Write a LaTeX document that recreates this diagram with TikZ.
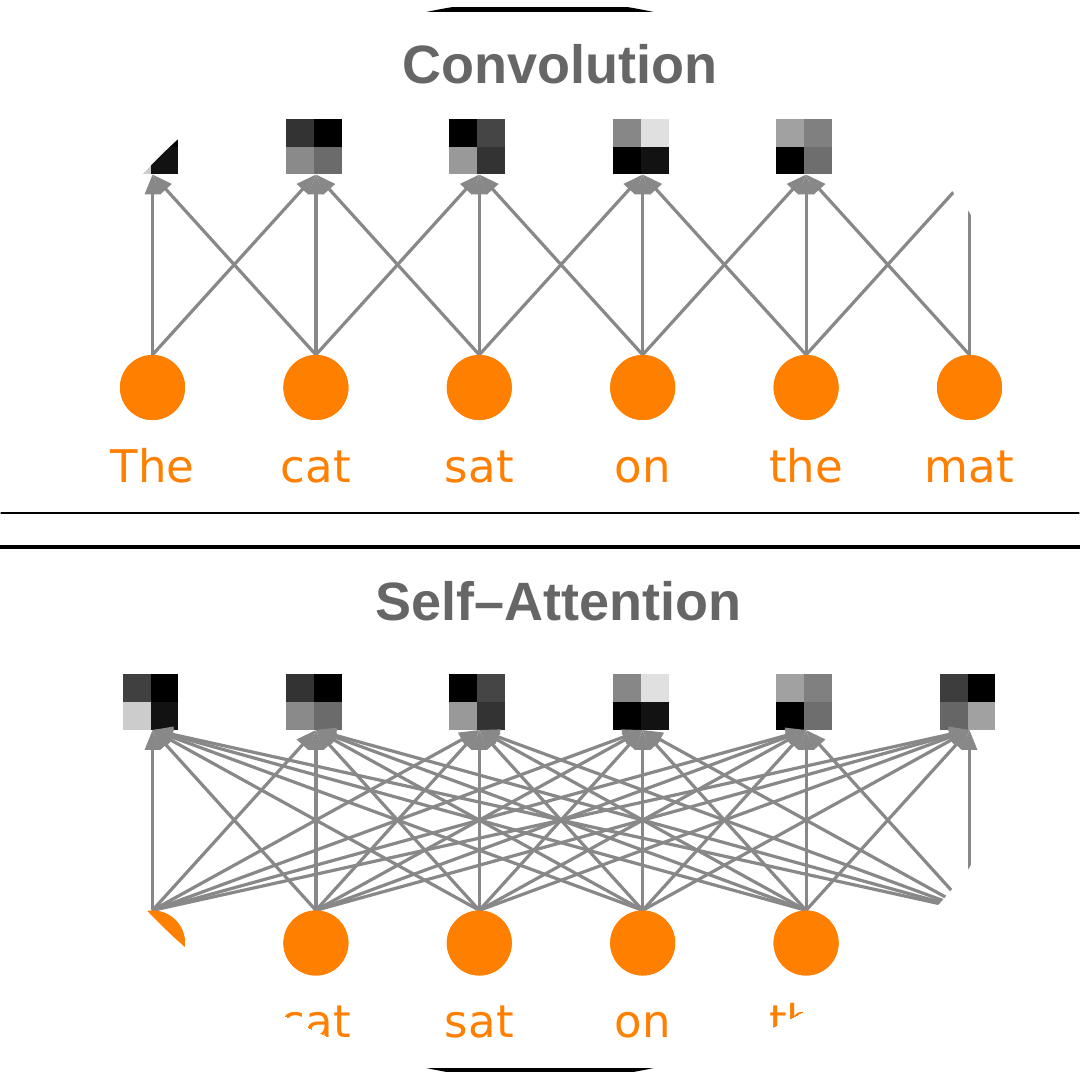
\documentclass[tikz,border=0pt]{standalone}
\usepackage{fontspec}
\setmainfont{DejaVu Sans}
\newfontfamily\titlefont{Liberation Sans}
\usetikzlibrary{arrows.meta}
\definecolor{nodeorange}{HTML}{FF8000}
\definecolor{arrgray}{HTML}{888888}
\definecolor{titlegray}{HTML}{666666}
\newcommand\drawpatch[7]{% name, x, y, TL, TR, BL, BR (gray levels)
  \node[gridsq] (#1) at (#2,#3) {};
  \definecolor{pc}{gray}{#4}\fill[pc] (#1.north west) rectangle (#1.center);
  \definecolor{pc}{gray}{#5}\fill[pc] (#1.north) rectangle (#1.east);
  \definecolor{pc}{gray}{#6}\fill[pc] (#1.west) rectangle (#1.south);
  \definecolor{pc}{gray}{#7}\fill[pc] (#1.center) rectangle (#1.south east);
}
\begin{document}
\begin{tikzpicture}[x=1pt,y=-1pt,
  tok/.style={circle,fill=nodeorange,minimum size=65pt,inner sep=0pt},
  word/.style={anchor=base,text=nodeorange,font=\fontsize{45}{54}\selectfont,inner sep=0pt},
  paneltitle/.style={anchor=base,text=titlegray,font=\titlefont\bfseries\fontsize{54}{64}\selectfont,inner sep=0pt},
  gridsq/.style={minimum size=55.5pt,inner sep=0pt,draw=none},
  link/.style={draw=arrgray,line width=3.2pt,-{Triangle[length=20pt,width=15pt]}},
  rule/.style={draw=black}
]
\useasboundingbox (0,0) rectangle (1080,1080);
\begin{scope}
\clip (540,540) circle [radius=540pt];
% frame lines
\draw[rule,line width=5pt] (0,9) -- (1080,9);
\draw[rule,line width=2pt] (0,512.7) -- (1080,512.7);
\draw[rule,line width=4pt] (0,546.7) -- (1080,546.7);
\draw[rule,line width=4pt] (0,1069.5) -- (1080,1069.5);
% titles
\node[paneltitle] (tconv) at (560,83) {Convolution};
\node[paneltitle] (tatt) at (558,620) {Self–Attention};
% ---------- Convolution ----------
\drawpatch{s1}{150.5}{146.5}{0.25}{0}{0.8}{0.07}
\drawpatch{s2}{313.9}{146.5}{0.2}{0}{0.54}{0.42}
\drawpatch{s3}{477.3}{146.5}{0}{0.27}{0.6}{0.2}
\drawpatch{s4}{640.7}{146.5}{0.53}{0.88}{0}{0.07}
\drawpatch{s5}{804.1}{146.5}{0.63}{0.5}{0}{0.43}
\drawpatch{s6}{967.5}{146.5}{0.24}{0}{0.4}{0.63}
\foreach \i/\x/\w in {1/152.5/The,2/315.9/cat,3/479.3/sat,4/642.7/on,5/806.1/the,6/969.5/mat}{
  \node[tok] (c\i) at (\x,387.5) {};
  \node[word] (w\i) at (\x,482) {\w};
}
\foreach \i in {1,...,6}{
  \foreach \j in {1,...,6}{
    \pgfmathtruncatemacro\d{abs(\i-\j)}
    \ifnum\d<2
      \draw[link] (c\i.north) -- ([xshift=2pt]s\j.south);
    \fi
  }
}
\foreach \i in {1,...,6}{ \node[tok] at (c\i) {}; }
% ---------- Self-Attention ----------
\drawpatch{t1}{150.5}{702}{0.25}{0}{0.8}{0.07}
\drawpatch{t2}{313.9}{702}{0.2}{0}{0.54}{0.42}
\drawpatch{t3}{477.3}{702}{0}{0.27}{0.6}{0.2}
\drawpatch{t4}{640.7}{702}{0.53}{0.88}{0}{0.07}
\drawpatch{t5}{804.1}{702}{0.63}{0.5}{0}{0.43}
\drawpatch{t6}{967.5}{702}{0.24}{0}{0.4}{0.63}
\foreach \i/\x/\w in {1/152.5/The,2/315.9/cat,3/479.3/sat,4/642.7/on,5/806.1/the,6/969.5/mat}{
  \node[tok] (a\i) at (\x,943) {};
  \node[word] (v\i) at (\x,1037.5) {\w};
}
\foreach \i in {1,...,6}{
  \foreach \j in {1,...,6}{
    \draw[link] (a\i.north) -- ([xshift=2pt]t\j.south);
  }
}
\foreach \i in {1,...,6}{ \node[tok] at (a\i) {}; }
\end{scope}
\end{tikzpicture}
\end{document}
